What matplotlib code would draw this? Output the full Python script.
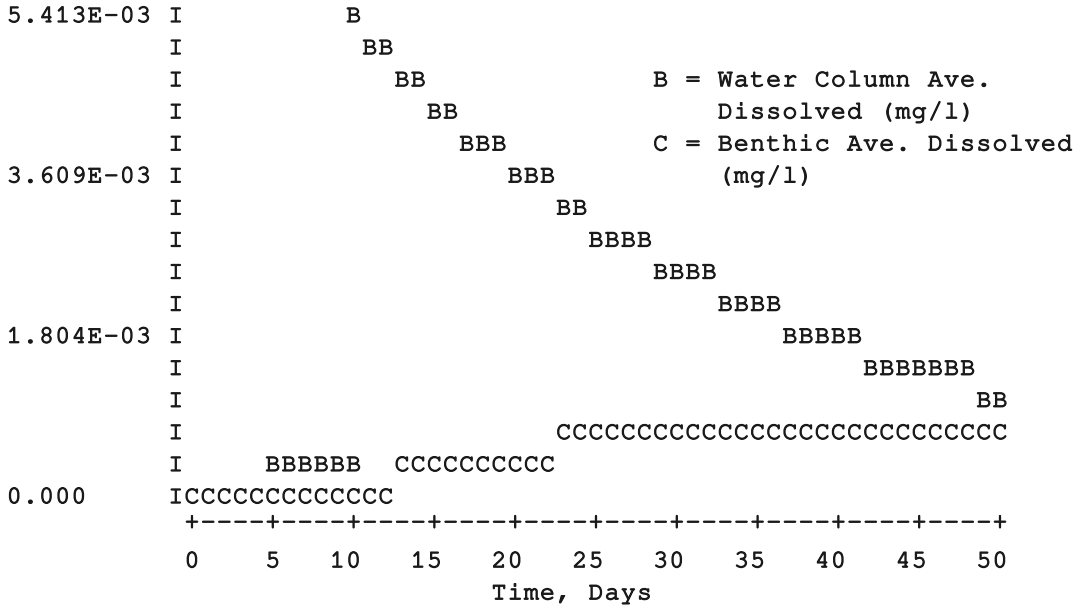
"""Line-printer style plot: water column vs benthic dissolved concentration."""
import matplotlib

matplotlib.use("Agg")
import matplotlib.pyplot as plt
from matplotlib import font_manager
from matplotlib import patheffects

# ---- data (one printer column = one day) ----
y_ticks = [5.413e-3, 3.609e-3, 1.804e-3, 0.0]
y_ticklabels = ["5.413E-03", "3.609E-03", "1.804E-03", "0.000"]
x_ticks = [0, 5, 10, 15, 20, 25, 30, 35, 40, 45, 50]

# B = water column ave. dissolved (mg/l); days 0-4 sit on 0 under the C's
b_days = [5, 6, 7, 8, 9, 10,
          10, 11, 12, 13, 14, 15, 16, 17, 18, 19, 20, 21, 22, 23, 24,
          25, 26, 27, 28, 29, 30, 31, 32, 33, 34, 35, 36,
          37, 38, 39, 40, 41, 42, 43, 44, 45, 46, 47, 48, 49, 50]
b_vals = [3.61e-4, 3.61e-4, 3.61e-4, 3.61e-4, 3.61e-4, 3.61e-4,
          5.413e-3, 5.052e-3, 5.052e-3, 4.691e-3, 4.691e-3, 4.330e-3, 4.330e-3,
          3.969e-3, 3.969e-3, 3.969e-3, 3.609e-3, 3.609e-3, 3.609e-3,
          3.248e-3, 3.248e-3,
          2.887e-3, 2.887e-3, 2.887e-3, 2.887e-3,
          2.526e-3, 2.526e-3, 2.526e-3, 2.526e-3,
          2.165e-3, 2.165e-3, 2.165e-3, 2.165e-3,
          1.804e-3, 1.804e-3, 1.804e-3, 1.804e-3, 1.804e-3,
          1.443e-3, 1.443e-3, 1.443e-3, 1.443e-3, 1.443e-3, 1.443e-3, 1.443e-3,
          1.083e-3, 1.083e-3]

# C = benthic ave. dissolved (mg/l)
c_days = [0, 1, 2, 3, 4, 5, 6, 7, 8, 9, 10, 11, 12,
          13, 14, 15, 16, 17, 18, 19, 20, 21, 22,
          23, 24, 25, 26, 27, 28, 29, 30, 31, 32, 33, 34, 35, 36,
          37, 38, 39, 40, 41, 42, 43, 44, 45, 46, 47, 48, 49, 50]
c_vals = [0.0] * 13 + [3.61e-4] * 10 + [7.22e-4] * 28

legend_lines = ["B = Water Column Ave.", "    Dissolved (mg/l)",
                "C = Benthic Ave. Dissolved", "    (mg/l)"]
x_label = "Time, Days"

# ---- printer grid ----
ROW = y_ticks[0] / 15          # value step of one printed line
COL_PX, ROW_PX = 16.16, 32.07  # character pitch in output pixels
X0_PX, Y0_PX = 192, 17         # pixel centre of day 0 / top line

INK = "#1a1a1a"
available = {f.name for f in font_manager.fontManager.ttflist}
MONO = next(f for f in ["Courier New", "Nimbus Mono PS", "FreeMono",
                        "Liberation Mono", "DejaVu Sans Mono"] if f in available)
STYLE = dict(family=MONO, fontsize=18, color=INK, ha="center", va="center",
             path_effects=[patheffects.withStroke(linewidth=0.9, foreground=INK)])


def put(ax, col, y, s):
    """Write a string one character per printer column."""
    for i, ch in enumerate(s):
        if ch != " ":
            ax.text(col + i, y, ch, **STYLE)


def line(r):
    """Value at printed line r (0 = top)."""
    return ROW * (15 - r)


W, H = 1078, 608
fig = plt.figure(figsize=(W / 100, H / 100), dpi=100)
ax = fig.add_axes([0, 0, 1, 1])
ax.set_xlim(-X0_PX / COL_PX, (W - X0_PX) / COL_PX)
ax.set_ylim(line((H - Y0_PX) / ROW_PX), line(-Y0_PX / ROW_PX))
ax.axis("off")

# y axis: column of I's plus labels
for r in range(16):
    ax.text(-1, line(r), "I", **STYLE)
for v, lab in zip(y_ticks, y_ticklabels):
    put(ax, -11, v, lab)

# x axis: +----+ rule, labels right-aligned on the tick column
for c in range(x_ticks[-1] + 1):
    ax.text(c, line(15.8), "+" if c in x_ticks else "-", **STYLE)
for t in x_ticks:
    lab = str(t)
    put(ax, t - len(lab) + 1, line(17), lab)
put(ax, 19, line(18), x_label)

# series
for d, v in zip(b_days, b_vals):
    ax.text(d, v, "B", **STYLE)
for d, v in zip(c_days, c_vals):
    ax.text(d, v, "C", **STYLE)

# legend
for i, txt in enumerate(legend_lines):
    put(ax, 29, line(2 + i), txt)

fig.savefig("out.png", dpi=100, facecolor="white")
